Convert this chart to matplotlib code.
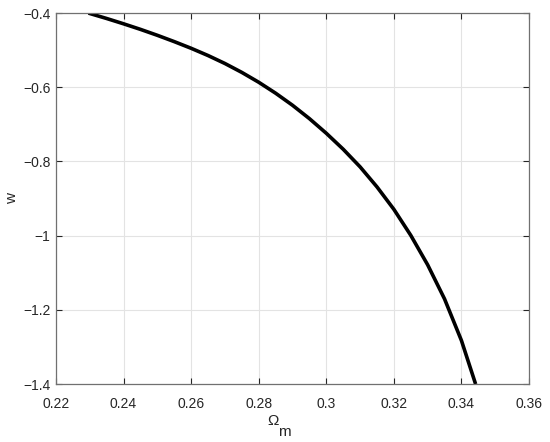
#/usr/bin/env python3

import numpy as np
import matplotlib
matplotlib.use('Agg')
import matplotlib.pyplot as plt
from matplotlib.ticker import FuncFormatter

# valores
omega_m = [0.2296, 0.235, 0.24, 0.245, 0.25, 0.255, 0.26, 0.265, 0.27, 0.275,
           0.28, 0.285, 0.29, 0.295, 0.30, 0.305, 0.31, 0.315, 0.32, 0.325,
           0.33, 0.335, 0.34, 0.3442]
w = [-0.400, -0.4146, -0.4289, -0.4439, -0.4599, -0.4769, -0.4949, -0.5144,
     -0.5359, -0.5599, -0.5864, -0.6159, -0.6484, -0.6844, -0.7239, -0.7669,
     -0.8144, -0.8684, -0.9289, -0.9989, -1.0784, -1.1704, -1.2824, -1.400]

xticks = [0.22, 0.24, 0.26, 0.28, 0.30, 0.32, 0.34, 0.36]
yticks = [-1.4, -1.2, -1.0, -0.8, -0.6, -0.4]


def fmt(v, pos):
    s = '%g' % round(v, 4)
    return s.replace('-', '\u2212')


def Graphic():
    plt.rcParams['font.family'] = ['Liberation Sans', 'DejaVu Sans']

    fig = plt.figure(figsize=(5.5, 4.42), dpi=100)
    ax = fig.add_axes([0.1018, 0.131, 0.86, 0.8394])

    ax.plot(omega_m, w, '-', color='black', lw=2.6, solid_capstyle='butt',
            solid_joinstyle='round')

    ax.set_xlim(0.22, 0.36)
    ax.set_ylim(-1.4, -0.4)
    ax.set_xticks(xticks)
    ax.set_yticks(yticks)
    ax.xaxis.set_major_formatter(FuncFormatter(fmt))
    ax.yaxis.set_major_formatter(FuncFormatter(fmt))

    ax.grid(True, color='#e3e3e3', lw=0.8)
    ax.set_axisbelow(True)
    ax.tick_params(direction='in', length=4, width=0.8, colors='#262626',
                   labelsize=10, top=True, right=True)
    ax.tick_params(axis='x', pad=9)
    ax.tick_params(axis='y', pad=4)
    for sp in ax.spines.values():
        sp.set_color('#707070')
        sp.set_linewidth(0.9)

    # etiqueta del eje x con subindice al estilo MATLAB
    ax.set_xlabel('\u03a9', fontsize=11, color='#262626')
    ax.xaxis.set_label_coords(0.459, -0.08)
    ax.text(0.482, -0.129, 'm', fontsize=11, color='#262626',
            ha='center', va='center', transform=ax.transAxes)
    ax.set_ylabel('w', fontsize=11, color='#262626', labelpad=3)

    fig.savefig('out.png', dpi=100)


if __name__ == "__main__":
    Graphic()
